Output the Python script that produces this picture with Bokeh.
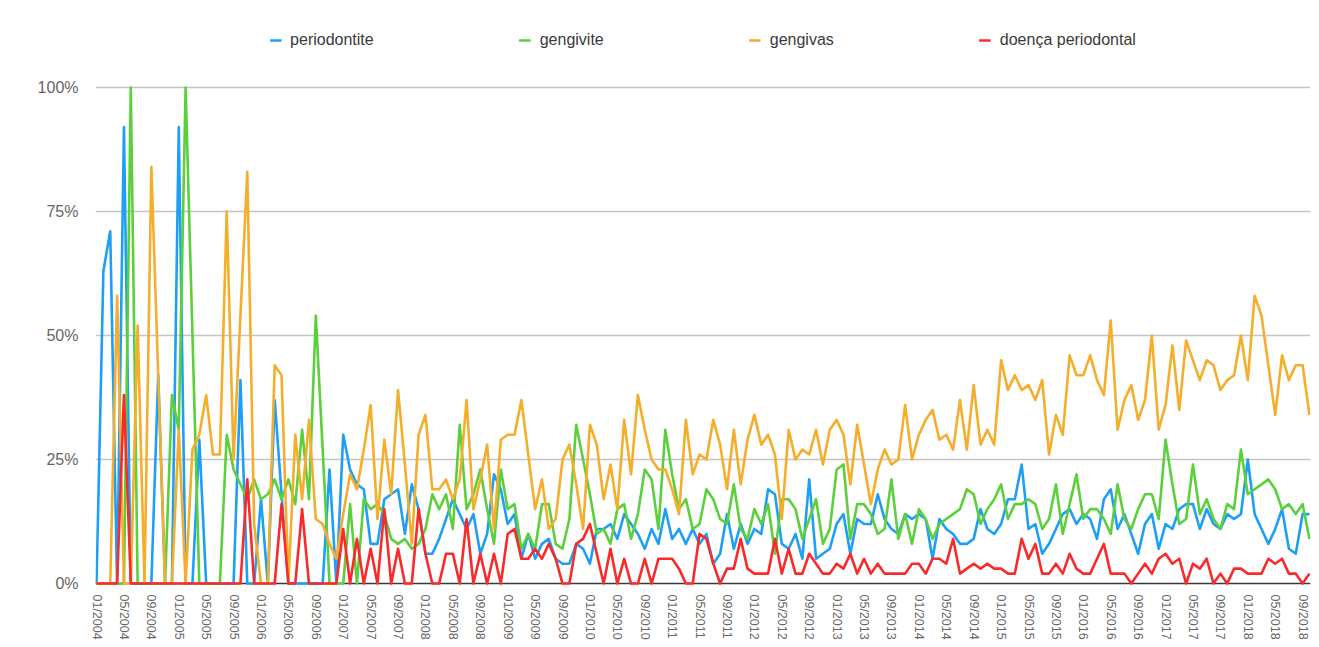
from bokeh.plotting import figure
from bokeh.models import Range1d, FixedTicker, Span, Legend, LegendItem
from bokeh.embed import file_html
from bokeh.resources import INLINE

series_names = ["periodontite", "gengivite", "gengivas", "doença periodontal"]

# monthly values (%), 01/2004 .. 10/2018
periodontite = [
    0, 63, 71, 0, 92, 0, 0, 0, 0, 42, 0, 0,
    92, 0, 0, 29, 0, 0, 0, 0, 0, 41, 0, 0,
    17, 0, 37, 18, 0, 0, 0, 0, 0, 0, 23, 0,
    30, 23, 20, 19, 8, 8, 17, 18, 19, 10, 20, 15,
    6, 6, 9, 13, 17, 14, 11, 14, 6, 10, 22, 19,
    12, 14, 5, 10, 5, 8, 9, 5, 4, 4, 8, 7,
    4, 11, 11, 12, 9, 14, 12, 10, 7, 11, 8, 15,
    9, 11, 8, 11, 8, 10, 4, 6, 14, 7, 12, 8,
    11, 10, 19, 18, 8, 7, 10, 5, 21, 5, 6, 7,
    12, 14, 6, 13, 12, 12, 18, 13, 11, 10, 14, 13,
    14, 13, 5, 13, 11, 10, 8, 8, 9, 15, 11, 10,
    12, 17, 17, 24, 11, 12, 6, 8, 11, 14, 15, 12,
    14, 13, 9, 17, 19, 11, 14, 10, 6, 12, 14, 7,
    12, 11, 15, 16, 16, 11, 15, 12, 11, 14, 13, 14,
    25, 14, 11, 8, 11, 15, 7, 6, 14, 14,
]
gengivite = [
    0, 0, 0, 0, 0, 100, 0, 0, 0, 0, 0, 38,
    31, 100, 50, 0, 0, 0, 0, 30, 23, 20, 17, 21,
    17, 18, 21, 17, 21, 16, 31, 17, 54, 27, 0, 0,
    0, 16, 0, 17, 15, 16, 14, 9, 8, 9, 7, 8,
    11, 18, 15, 18, 11, 32, 15, 18, 23, 15, 8, 23,
    15, 16, 7, 10, 7, 16, 16, 8, 7, 13, 32, 25,
    18, 10, 11, 8, 15, 16, 9, 14, 23, 21, 11, 31,
    22, 15, 17, 11, 12, 19, 17, 13, 12, 20, 11, 9,
    15, 12, 16, 6, 17, 17, 15, 9, 13, 17, 8, 11,
    23, 24, 9, 16, 16, 14, 10, 11, 21, 9, 14, 8,
    15, 13, 9, 12, 13, 14, 15, 19, 18, 12, 15, 17,
    20, 13, 16, 16, 17, 16, 11, 13, 20, 10, 16, 22,
    13, 15, 15, 13, 10, 20, 13, 11, 15, 18, 18, 13,
    29, 20, 12, 13, 24, 14, 17, 13, 11, 16, 15, 27,
    18, 19, 20, 21, 19, 15, 16, 14, 16, 9,
]
gengivas = [
    0, 0, 0, 58, 0, 0, 52, 0, 84, 42, 0, 0,
    31, 0, 27, 30, 38, 26, 26, 75, 25, 54, 83, 12,
    0, 0, 44, 42, 0, 30, 17, 33, 13, 12, 8, 5,
    14, 22, 19, 27, 36, 13, 29, 18, 39, 24, 8, 30,
    34, 19, 19, 21, 17, 21, 37, 15, 21, 28, 11, 29,
    30, 30, 37, 26, 15, 21, 11, 13, 25, 28, 20, 11,
    32, 28, 17, 24, 15, 33, 22, 38, 31, 25, 23, 23,
    19, 14, 33, 22, 26, 25, 33, 28, 19, 31, 20, 29,
    34, 28, 30, 26, 13, 31, 25, 27, 26, 31, 24, 31,
    33, 30, 20, 32, 24, 16, 23, 27, 24, 25, 36, 25,
    30, 33, 35, 29, 30, 27, 37, 27, 40, 28, 31, 28,
    45, 39, 42, 39, 40, 37, 41, 26, 34, 30, 46, 42,
    42, 46, 41, 38, 53, 31, 37, 40, 33, 37, 50, 31,
    36, 48, 35, 49, 45, 41, 45, 44, 39, 41, 42, 50,
    41, 58, 54, 44, 34, 46, 41, 44, 44, 34,
]
doenca_periodontal = [
    0, 0, 0, 0, 38, 0, 0, 0, 0, 0, 0, 0,
    0, 0, 0, 0, 0, 0, 0, 0, 0, 0, 21, 0,
    0, 0, 0, 16, 0, 0, 15, 0, 0, 0, 0, 0,
    11, 0, 9, 0, 7, 0, 15, 0, 7, 0, 0, 15,
    6, 0, 0, 6, 6, 0, 13, 0, 6, 0, 6, 0,
    10, 11, 5, 5, 7, 5, 8, 5, 0, 0, 8, 9,
    12, 6, 0, 7, 0, 5, 0, 0, 5, 0, 5, 5,
    5, 3, 0, 0, 10, 9, 4, 0, 3, 3, 9, 3,
    2, 2, 2, 9, 2, 7, 2, 2, 6, 4, 2, 2,
    4, 3, 6, 2, 5, 2, 4, 2, 2, 2, 2, 4,
    4, 2, 5, 5, 4, 9, 2, 3, 4, 3, 4, 3,
    3, 2, 2, 9, 5, 8, 2, 2, 4, 2, 6, 3,
    2, 2, 5, 8, 2, 2, 2, 0, 2, 4, 2, 5,
    6, 4, 5, 0, 4, 3, 5, 0, 2, 0, 3, 3,
    2, 2, 2, 5, 4, 5, 2, 2, 0, 2,
]

x_tick_labels = [
    "01/2004", "05/2004", "09/2004", "01/2005", "05/2005", "09/2005",
    "01/2006", "05/2006", "09/2006", "01/2007", "05/2007", "09/2007",
    "01/2008", "05/2008", "09/2008", "01/2009", "05/2009", "09/2009",
    "01/2010", "05/2010", "09/2010", "01/2011", "05/2011", "09/2011",
    "01/2012", "05/2012", "09/2012", "01/2013", "05/2013", "09/2013",
    "01/2014", "05/2014", "09/2014", "01/2015", "05/2015", "09/2015",
    "01/2016", "05/2016", "09/2016", "01/2017", "05/2017", "09/2017",
    "01/2018", "05/2018", "09/2018",
]
x_tick_step = 4
y_ticks = [0, 25, 50, 75, 100]
y_tick_labels = ["0%", "25%", "50%", "75%", "100%"]

colors = ["#1e9ff6", "#5ccf3c", "#f5ad2c", "#fa2a2a"]
FONT = "Liberation Sans"

all_series = [periodontite, gengivite, gengivas, doenca_periodontal]
n = len(periodontite)
months = list(range(n))

p = figure(width=1319, height=647, output_backend="svg", toolbar_location=None,
           x_range=Range1d(-0.15, n - 1 + 0.15), y_range=Range1d(-1, 113.5),
           min_border_left=95, min_border_right=9, min_border_top=20,
           min_border_bottom=59)
p.outline_line_color = None
p.background_fill_color = "white"
p.border_fill_color = "white"

# axes
x_ticks = [i * x_tick_step for i in range(len(x_tick_labels))]
p.xaxis.ticker = FixedTicker(ticks=x_ticks)
p.xaxis.major_label_overrides = {t: lab for t, lab in zip(x_ticks, x_tick_labels)}
p.xaxis.major_label_orientation = "vertical"
p.xaxis.axis_line_color = None
p.xaxis.major_tick_line_color = None
p.xaxis.minor_tick_line_color = None
p.xaxis.major_tick_out = 0
p.xaxis.major_tick_in = 0
p.xaxis.major_label_standoff = 6
p.xaxis.major_label_text_font = FONT
p.xaxis.major_label_text_font_size = "12.5px"
p.xaxis.major_label_text_color = "#666666"

p.yaxis.ticker = FixedTicker(ticks=y_ticks)
p.yaxis.major_label_overrides = {t: lab for t, lab in zip(y_ticks, y_tick_labels)}
p.yaxis.axis_line_color = None
p.yaxis.major_tick_line_color = None
p.yaxis.minor_tick_line_color = None
p.yaxis.major_tick_out = 0
p.yaxis.major_tick_in = 0
p.yaxis.major_label_standoff = 17
p.yaxis.major_label_text_font = FONT
p.yaxis.major_label_text_font_size = "16px"
p.yaxis.major_label_text_color = "#666666"

p.xgrid.visible = False
p.ygrid.ticker = FixedTicker(ticks=[t for t in y_ticks if t > 0])
p.ygrid.grid_line_color = "#c4c4c4"
p.ygrid.grid_line_width = 1.3

baseline = Span(location=0, dimension="width", line_color="#3a3a3a",
                line_width=1.6, level="underlay")
p.add_layout(baseline)

items = []
for name, vals, col in zip(series_names, all_series, colors):
    r = p.line(months, vals, line_color=col, line_width=2.6, line_join="round")
    items.append(LegendItem(label=name, renderers=[r]))

legend = Legend(items=items, location="top_center", orientation="horizontal")
legend.spacing = 145
legend.glyph_width = 12
legend.glyph_height = 20
legend.label_standoff = 9
legend.padding = 0
legend.margin = 10
legend.border_line_alpha = 0
legend.background_fill_alpha = 0
legend.label_text_font = FONT
legend.label_text_font_size = "16px"
legend.label_text_color = "#3a3a3a"
p.add_layout(legend)

open("out.html", "w").write(file_html(p, INLINE))
